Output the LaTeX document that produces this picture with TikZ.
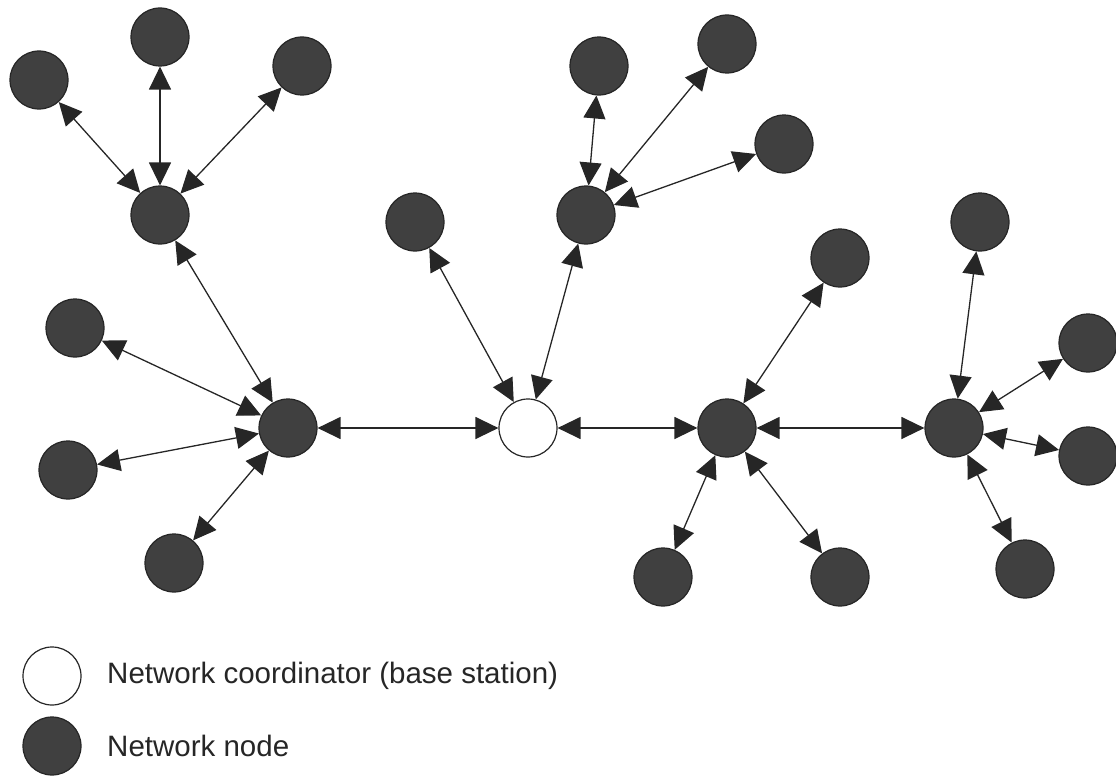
\documentclass[tikz,border=0pt]{standalone}
\usepackage{fontspec}
\setmainfont{Liberation Sans}
\usetikzlibrary{arrows.meta}
\definecolor{nodegray}{HTML}{404040}
\definecolor{rimgray}{HTML}{262626}
\begin{document}
\begin{tikzpicture}[x=1pt,y=-1pt,
  netnode/.style={circle,minimum size=58pt,inner sep=0pt,fill=nodegray,draw=rimgray,line width=1.2pt},
  basenode/.style={circle,minimum size=58pt,inner sep=0pt,fill=white,draw=rimgray,line width=1.2pt},
  link/.style={{Triangle[length=23pt,width=22pt]}-{Triangle[length=23pt,width=22pt]},line width=1.3pt,draw=black!85},
  legendtext/.style={anchor=west,inner sep=0pt,font=\fontsize{29.5}{34}\selectfont,text=black!85}]
\useasboundingbox (0,0) rectangle (1116,776);

% hubs and coordinator
\node[netnode]  (A) at (160,215) {};
\node[netnode]  (B) at (288,428) {};
\node[basenode] (C) at (528,428) {};
\node[netnode]  (D) at (586,215) {};
\node[netnode]  (E) at (727,428) {};
\node[netnode]  (F) at (954,428) {};

% leaves
\node[netnode] (a1) at (39,80) {};
\node[netnode] (a2) at (160,37) {};
\node[netnode] (a3) at (302,66) {};
\node[netnode] (b1) at (75,328) {};
\node[netnode] (b2) at (68,470) {};
\node[netnode] (b3) at (174,563) {};
\node[netnode] (c1) at (415,222) {};
\node[netnode] (d1) at (599,66) {};
\node[netnode] (d2) at (727,44) {};
\node[netnode] (d3) at (784,144) {};
\node[netnode] (e1) at (840,258) {};
\node[netnode] (e2) at (663,577) {};
\node[netnode] (e3) at (840,577) {};
\node[netnode] (f1) at (980,222) {};
\node[netnode] (f2) at (1088,343) {};
\node[netnode] (f3) at (1088,456) {};
\node[netnode] (f4) at (1025,569) {};

% links
\foreach \u/\v in {A/a1,A/a2,A/a3,A/B,B/b1,B/b2,B/b3,B/C,C/c1,C/D,C/E,
                   D/d1,D/d2,D/d3,E/e1,E/e2,E/e3,E/F,F/f1,F/f2,F/f3,F/f4}
  \draw[link] (\u) -- (\v);

% legend
\node[basenode] (lgbase) at (52,676) {};
\node[netnode]  (lgnode) at (52,746) {};
\node[legendtext] (lgbasetxt) at (107,676) {Network coordinator (base station)};
\node[legendtext] (lgnodetxt) at (107,746) {Network node};
\end{tikzpicture}
\end{document}
